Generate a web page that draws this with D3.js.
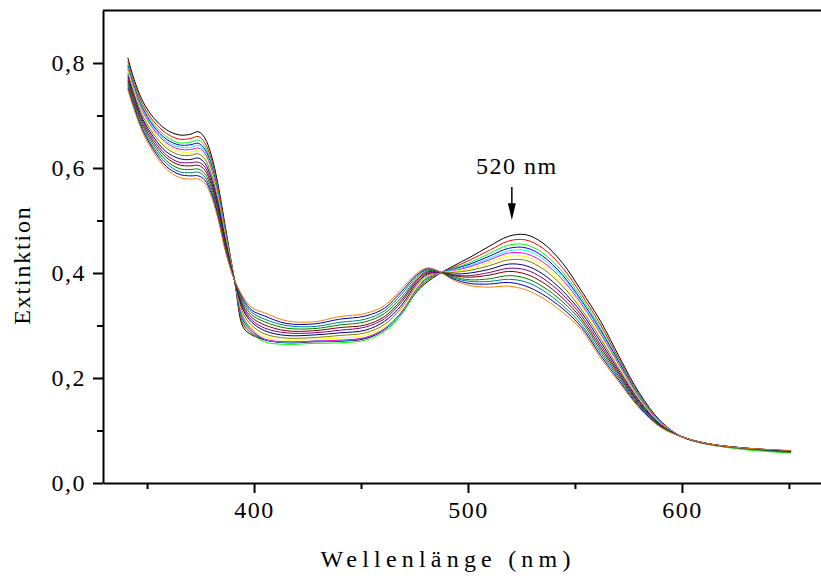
<!DOCTYPE html>
<html>
<head>
<meta charset="utf-8">
<script src="https://cdn.jsdelivr.net/npm/d3@7"></script>
<style>
  html, body { margin: 0; padding: 0; background: #fff; }
  svg { display: block; }
  text { font-family: "Liberation Serif", "Times New Roman", serif; fill: #000; }
</style>
</head>
<body>
<svg id="chart" width="821" height="579"></svg>
<script>
// Wavelengths (nm) at which the spectra were read
const wavelengths = [341,344,348,353,359,365,370,374,377,380,383,387,391,395,399,405,415,428,440,452,461,469,476,481,486,493,501,510,519,527,535,544,553,562,571,580,590,600,612,628,651];

// Extinction spectra (one array per measurement, top-to-bottom at 520 nm)
const black   = [.810,.768,.727,.696,.673,.663,.664,.669,.657,.625,.572,.478,.383,.296,.282,.273,.267,.269,.270,.275,.292,.324,.364,.383,.397,.413,.430,.451,.470,.473,.457,.420,.366,.308,.238,.172,.118,.088,.074,.066,.061];
const red     = [.804,.762,.721,.689,.666,.655,.656,.660,.648,.617,.565,.474,.383,.302,.285,.273,.268,.270,.271,.276,.293,.325,.366,.386,.398,.410,.425,.443,.461,.463,.447,.411,.359,.301,.233,.169,.117,.088,.074,.066,.061];
const green   = [.799,.758,.716,.684,.660,.648,.649,.653,.642,.611,.560,.470,.383,.306,.285,.269,.264,.266,.267,.272,.289,.321,.366,.388,.398,.408,.420,.437,.453,.454,.438,.403,.353,.295,.229,.167,.116,.088,.074,.064,.057];
const blue    = [.795,.754,.713,.680,.655,.644,.644,.647,.636,.606,.556,.468,.383,.310,.289,.273,.268,.270,.271,.276,.293,.325,.369,.390,.399,.407,.417,.432,.447,.448,.432,.397,.348,.291,.227,.165,.115,.088,.074,.066,.060];
const cyan    = [.792,.751,.710,.677,.651,.640,.639,.643,.632,.602,.553,.466,.384,.313,.290,.274,.268,.270,.271,.277,.293,.325,.369,.391,.399,.406,.414,.428,.442,.443,.427,.393,.345,.288,.224,.164,.115,.088,.074,.066,.060];
const magenta = [.789,.748,.707,.674,.648,.636,.635,.638,.628,.598,.549,.463,.384,.316,.292,.274,.269,.270,.272,.277,.294,.326,.370,.392,.399,.404,.412,.425,.438,.437,.421,.388,.341,.284,.222,.162,.114,.088,.074,.066,.059];
const yellow  = [.786,.745,.703,.670,.643,.631,.630,.633,.623,.593,.545,.461,.384,.319,.295,.278,.272,.274,.276,.281,.298,.330,.373,.394,.400,.403,.408,.420,.432,.431,.415,.382,.336,.280,.219,.160,.113,.088,.074,.066,.059];
const olive   = [.781,.741,.699,.665,.638,.625,.624,.627,.617,.588,.541,.458,.384,.323,.300,.284,.276,.277,.281,.286,.302,.334,.376,.396,.400,.401,.405,.414,.425,.424,.408,.376,.331,.275,.215,.158,.112,.088,.074,.066,.060];
const navy    = [.776,.736,.693,.659,.631,.618,.616,.619,.609,.581,.535,.454,.384,.329,.306,.290,.281,.282,.286,.291,.308,.339,.380,.398,.401,.398,.400,.407,.417,.414,.398,.367,.325,.269,.211,.156,.111,.088,.075,.067,.061];
const purple  = [.771,.731,.689,.654,.625,.611,.610,.611,.602,.574,.529,.451,.384,.333,.310,.295,.286,.286,.291,.297,.313,.345,.383,.400,.401,.396,.395,.401,.409,.406,.390,.360,.319,.263,.207,.153,.110,.088,.075,.067,.061];
const wine    = [.767,.727,.684,.649,.620,.606,.604,.605,.596,.569,.524,.448,.384,.337,.315,.301,.290,.290,.296,.301,.317,.349,.386,.402,.402,.395,.392,.396,.403,.398,.382,.353,.313,.258,.204,.151,.110,.088,.075,.067,.060];
const dkgreen = [.762,.722,.680,.644,.614,.599,.597,.598,.589,.563,.519,.444,.385,.342,.320,.307,.295,.294,.301,.307,.323,.354,.389,.404,.403,.393,.387,.389,.395,.390,.374,.346,.308,.253,.200,.149,.109,.088,.075,.066,.058];
const teal    = [.758,.718,.675,.639,.609,.593,.591,.592,.583,.557,.514,.441,.385,.346,.325,.312,.300,.298,.306,.312,.328,.360,.393,.406,.403,.391,.384,.384,.388,.383,.367,.339,.302,.248,.197,.147,.108,.088,.075,.067,.061];
const royal   = [.753,.714,.671,.635,.603,.588,.585,.585,.577,.552,.510,.438,.385,.350,.329,.318,.304,.303,.312,.318,.333,.365,.396,.408,.404,.389,.380,.379,.382,.375,.359,.333,.297,.243,.193,.145,.107,.088,.075,.067,.061];
const orange  = [.749,.710,.667,.630,.598,.582,.579,.579,.571,.546,.505,.435,.385,.354,.334,.324,.309,.307,.317,.323,.338,.370,.399,.410,.404,.387,.376,.373,.375,.368,.352,.326,.292,.238,.190,.143,.106,.088,.075,.067,.062];

const spectra = [black, red, green, blue, cyan, magenta, yellow, olive, navy, purple, wine, dkgreen, teal, royal, orange];
const colors  = ["#000000","#ff0000","#00ff00","#0000ff","#00ffff","#ff00ff","#ffff00","#808000","#000080","#800080","#800000","#008000","#008080","#0000c0","#ff8000"];

// Axis ticks
const xMajorTicks = [400, 500, 600];
const xMinorTicks = [350, 450, 550, 650];
const yMajorTicks = [0.0, 0.2, 0.4, 0.6, 0.8];
const yMinorTicks = [0.1, 0.3, 0.5, 0.7];

// Labels
const xTitle = "Wellenlänge (nm)";
const yTitle = "Extinktion";
const annotationText = "520 nm";
const annotationWavelength = 520.5;

const svg = d3.select("#chart");
const W = 821, H = 579;

const x = d3.scaleLinear().domain([329.4, 665]).range([103, 821]);
const y = d3.scaleLinear().domain([0, 0.9]).range([483, 10.5]);

const fmt = v => d3.format(".1f")(v).replace(".", ",");

// Curves
const line = d3.line()
  .x((d) => x(d[0]))
  .y((d) => y(d[1]))
  .curve(d3.curveCatmullRom.alpha(0.5));

const gLines = svg.append("g");
spectra.forEach((s, i) => {
  gLines.append("path")
    .datum(wavelengths.map((w, j) => [w, s[j]]))
    .attr("d", line)
    .attr("fill", "none")
    .attr("stroke", colors[i])
    .attr("stroke-width", 1);
});

// X axis
const gx = svg.append("g").attr("transform", `translate(0,${y(0)})`);
gx.call(d3.axisBottom(x).tickValues(xMajorTicks).tickSize(10).tickSizeOuter(0).tickFormat(d3.format("d")).tickPadding(8));
const gxm = svg.append("g").attr("transform", `translate(0,${y(0)})`);
gxm.call(d3.axisBottom(x).tickValues(xMinorTicks).tickSize(6).tickSizeOuter(0).tickFormat(""));
gxm.select(".domain").remove();

// Y axis
const gy = svg.append("g").attr("transform", `translate(${x.range()[0]},0)`);
gy.call(d3.axisLeft(y).tickValues(yMajorTicks).tickSize(10).tickSizeOuter(0).tickFormat(fmt).tickPadding(7));
const gym = svg.append("g").attr("transform", `translate(${x.range()[0]},0)`);
gym.call(d3.axisLeft(y).tickValues(yMinorTicks).tickSize(6).tickSizeOuter(0).tickFormat(""));
gym.select(".domain").remove();

svg.selectAll(".domain").attr("stroke", "#000").attr("stroke-width", 2);
svg.selectAll(".tick line").attr("stroke", "#000").attr("stroke-width", 2);
svg.selectAll(".tick text")
  .style("font-family", '"Liberation Serif", "Times New Roman", serif')
  .style("font-size", "24px")
  .style("letter-spacing", "1.5px")
  .attr("fill", "#000");

// Top frame line
svg.append("line")
  .attr("x1", x.range()[0]).attr("x2", W)
  .attr("y1", y(0.9)).attr("y2", y(0.9))
  .attr("stroke", "#000").attr("stroke-width", 2);

// Axis titles
svg.append("text")
  .attr("x", 448).attr("y", 567)
  .attr("text-anchor", "middle")
  .style("font-size", "24px")
  .style("letter-spacing", "5.2px")
  .text(xTitle);

svg.append("text")
  .attr("transform", "translate(30,265) rotate(-90)")
  .attr("text-anchor", "middle")
  .style("font-size", "24px")
  .style("letter-spacing", "1.8px")
  .text(yTitle);

// Annotation with arrow
const ax = x(annotationWavelength);
svg.append("text")
  .attr("x", ax + 5).attr("y", y(0.5886))
  .attr("text-anchor", "middle")
  .style("font-size", "24px")
  .style("letter-spacing", "1.5px")
  .text(annotationText);
svg.append("line")
  .attr("x1", ax).attr("x2", ax)
  .attr("y1", y(0.564)).attr("y2", y(0.530))
  .attr("stroke", "#000").attr("stroke-width", 1.5);
svg.append("path")
  .attr("d", `M${ax-4},${y(0.533)} L${ax+4},${y(0.533)} L${ax},${y(0.501)} Z`)
  .attr("fill", "#000");
</script>
</body>
</html>
